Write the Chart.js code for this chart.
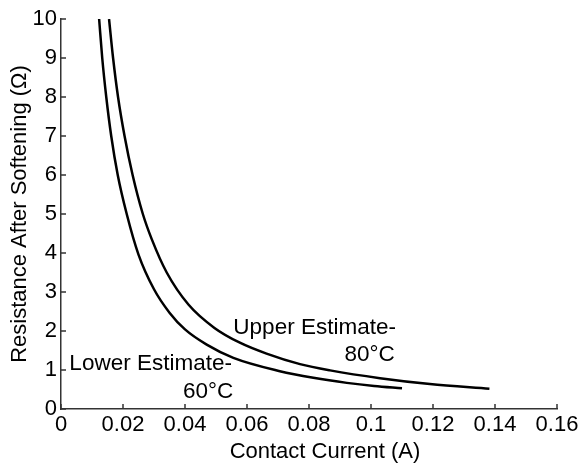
<!DOCTYPE html>
<html>
<head>
<meta charset="utf-8">
<script src="https://cdn.jsdelivr.net/npm/chart.js@4.4.1/dist/chart.umd.min.js"></script>
<style>
  html, body { margin: 0; padding: 0; background: #fff; }
  #wrap { width: 583px; height: 466px; position: relative; }
</style>
</head>
<body>
<div id="wrap"><canvas id="chart"></canvas></div>
<script>
// Contact current (A) and resistance after softening (ohm)
const lowerCurrent = [0.0123, 0.0133, 0.0146, 0.0162, 0.0183, 0.0212, 0.0250, 0.0300, 0.0350,
                      0.0400, 0.0470, 0.0556, 0.0706, 0.0814, 0.0922, 0.1010, 0.1100];
const lowerResistance = [10, 9, 8, 7, 6, 5, 3.96, 3.07, 2.47,
                         2.04, 1.65, 1.31, 0.97, 0.80, 0.67, 0.59, 0.53];

const upperCurrent = [0.0155, 0.0168, 0.0184, 0.0205, 0.0231, 0.0264, 0.0293, 0.0341, 0.0411,
                      0.0495, 0.0577, 0.0663, 0.0771, 0.0868, 0.1029, 0.1190, 0.1382];
const upperResistance = [10, 9, 8, 7, 6, 5, 4.35, 3.5, 2.68,
                         2.08, 1.70, 1.42, 1.15, 0.99, 0.79, 0.64, 0.52];

const xTicks = [0, 0.02, 0.04, 0.06, 0.08, 0.1, 0.12, 0.14, 0.16];
const yTicks = [0, 1, 2, 3, 4, 5, 6, 7, 8, 9, 10];

// curve labels: [text, x, y, align]
const curveLabels = [
    ["Lower Estimate-", 0.0027, 1.15, "left"],
    ["60°C", 0.0556, 0.45, "right"],
    ["Upper Estimate-", 0.0556, 2.07, "left"],
    ["80°C", 0.1077, 1.40, "right"]
];

const FONT = "'Liberation Sans', Arial, Helvetica, sans-serif";
const AXIS_COLOR = '#333';

const toPoints = (xs, ys) => xs.map((x, i) => ({ x: x, y: ys[i] }));

// inward tick marks, curve labels and the x axis title
const decorations = {
    id: 'decorations',
    afterDraw(chart) {
        const ctx = chart.ctx;
        const xs = chart.scales.x, ys = chart.scales.y;
        const area = chart.chartArea;
        ctx.save();
        ctx.strokeStyle = AXIS_COLOR;
        ctx.lineWidth = 1.5;
        ctx.beginPath();
        xs.ticks.forEach((t, i) => {
            const px = xs.getPixelForTick(i);
            ctx.moveTo(px, area.bottom);
            ctx.lineTo(px, area.bottom - 5);
        });
        ys.ticks.forEach((t, i) => {
            const py = ys.getPixelForTick(i);
            ctx.moveTo(area.left, py);
            ctx.lineTo(area.left + 5, py);
        });
        ctx.stroke();

        ctx.fillStyle = '#000';
        ctx.font = '22.5px ' + FONT;
        ctx.textBaseline = 'middle';
        curveLabels.forEach(([text, x, y, align]) => {
            ctx.textAlign = align;
            ctx.fillText(text, xs.getPixelForValue(x), ys.getPixelForValue(y));
        });

        ctx.font = '22px ' + FONT;
        ctx.textAlign = 'center';
        ctx.fillText('Contact Current (A)', (area.left + area.right) / 2 + 16, 452);
        ctx.restore();
    }
};

const ctx = document.getElementById('chart').getContext('2d');
const chart = new Chart(ctx, {
    type: 'line',
    data: {
        datasets: [
            {
                label: 'Lower Estimate-60°C',
                data: toPoints(lowerCurrent, lowerResistance),
                borderColor: '#000',
                borderWidth: 2.5,
                pointRadius: 0,
                cubicInterpolationMode: 'monotone'
            },
            {
                label: 'Upper Estimate-80°C',
                data: toPoints(upperCurrent, upperResistance),
                borderColor: '#000',
                borderWidth: 2.5,
                pointRadius: 0,
                cubicInterpolationMode: 'monotone'
            }
        ]
    },
    options: {
        responsive: true,
        maintainAspectRatio: false,
        animation: false,
        layout: {
            padding: { top: 19, right: 26, bottom: 0, left: 0 }
        },
        plugins: {
            legend: { display: false },
            tooltip: { enabled: false }
        },
        scales: {
            x: {
                type: 'linear',
                min: 0,
                max: 0.16,
                afterBuildTicks: scale => { scale.ticks = xTicks.map(v => ({ value: v })); },
                afterFit: scale => { scale.height = 57; },
                grid: { display: true, drawOnChartArea: false, drawTicks: false },
                border: { display: true, color: AXIS_COLOR, width: 1.5 },
                ticks: {
                    color: '#000',
                    padding: 3,
                    maxRotation: 0,
                    autoSkip: false,
                    font: { family: FONT, size: 22 },
                    callback: v => String(v)
                },
                title: { display: false }
            },
            y: {
                type: 'linear',
                min: 0,
                max: 10,
                afterBuildTicks: scale => { scale.ticks = yTicks.map(v => ({ value: v })); },
                afterFit: scale => { scale.width = 61; },
                grid: { display: true, drawOnChartArea: false, drawTicks: false },
                border: { display: true, color: AXIS_COLOR, width: 1.5 },
                ticks: {
                    color: '#000',
                    padding: 4,
                    autoSkip: false,
                    font: { family: FONT, size: 22 },
                    callback: v => String(v)
                },
                title: {
                    display: true,
                    text: 'Resistance After Softening (Ω)',
                    color: '#000',
                    font: { family: FONT, size: 22 },
                    padding: { top: 7, bottom: 0 }
                }
            }
        }
    },
    plugins: [decorations]
});
</script>
</body>
</html>
